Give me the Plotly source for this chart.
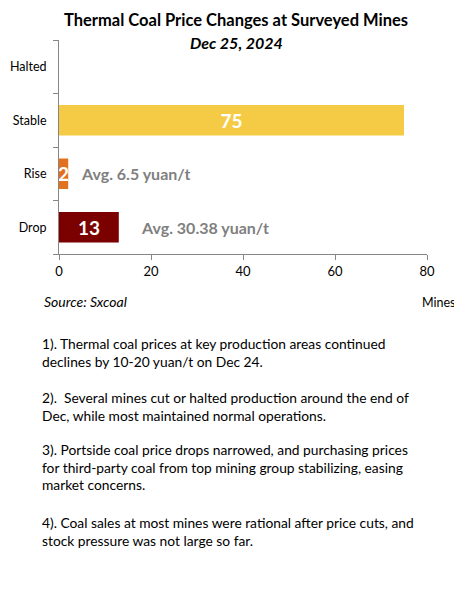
import plotly.graph_objects as go

# survey data, bottom to top as drawn on the y axis
categories = ['Drop', 'Rise', 'Stable', 'Halted']
mines = [13, 2, 75, 0]
bar_colors = ['#7B0000', '#E2711D', '#F5CB45', '#F5CB45']
avg_labels = ['Avg. 30.38 yuan/t', 'Avg. 6.5 yuan/t', '', '']
x_ticks = [0, 20, 40, 60, 80]

notes = [
    ['1). Thermal coal prices at key production areas continued',
     'declines by 10-20 yuan/t on Dec 24.'],
    ['2).  Several mines cut or halted production around the end of',
     'Dec, while most maintained normal operations.'],
    ['3). Portside coal price drops narrowed, and purchasing prices',
     'for third-party coal from top mining group stabilizing, easing',
     'market concerns.'],
    ['4). Coal sales at most mines were rational after price cuts, and',
     'stock pressure was not large so far.'],
]

font_main = 'Lato, Open Sans, sans-serif'

# the page puts the figure 8px in from the top left corner
OFF = 8
W, H = 462 - OFF, 606 - OFF
left, right = 59 - OFF, 427 - OFF
plot_top, plot_bottom = 40 - OFF, 254 - OFF


def px_x(px):
    # page column -> paper x
    return (px - OFF - left) / (right - left)


def px_y(px):
    # page row -> paper y
    return (plot_bottom - (px - OFF)) / (plot_bottom - plot_top)


fig = go.Figure()
fig.add_trace(go.Bar(
    x=mines,
    y=categories,
    orientation='h',
    marker=dict(color=bar_colors, line=dict(width=0)),
    width=0.57,
    text=[str(v) if v else '' for v in mines],
    textposition='inside',
    insidetextanchor='middle',
    constraintext='none',
    textfont=dict(family=font_main, size=19, color='white', weight='bold'),
    hoverinfo='skip',
))

annotations = []
# average change labels next to the bars
for cat, val, lab in zip(categories, mines, avg_labels):
    if lab:
        annotations.append(dict(
            x=val + (4.4 if val > 5 else 2.3), y=cat, xref='x', yref='y',
            text=lab, showarrow=False, xanchor='left', yanchor='middle',
            font=dict(family=font_main, size=16, color='#808080', weight='bold'),
        ))

annotations.append(dict(
    x=px_x(236), y=px_y(20), xref='paper', yref='paper', showarrow=False,
    text='<b>Thermal Coal Price Changes at Surveyed Mines</b>',
    font=dict(family=font_main, size=16.5, color='black'),
    xanchor='center', yanchor='middle',
))
annotations.append(dict(
    x=px_x(236), y=px_y(42), xref='paper', yref='paper', showarrow=False,
    text='<b><i>Dec 25, 2024</i></b>',
    font=dict(family=font_main, size=16, color='black'),
    xanchor='center', yanchor='middle',
))
annotations.append(dict(
    x=px_x(42), y=px_y(301), xref='paper', yref='paper', showarrow=False,
    text='<i>Source: Sxcoal</i>', xanchor='left', yanchor='middle',
    font=dict(family=font_main, size=14, color='black'),
))
annotations.append(dict(
    x=px_x(420), y=px_y(302), xref='paper', yref='paper', showarrow=False,
    text='Mines', xanchor='left', yanchor='middle',
    font=dict(family=font_main, size=12.5, color='black'),
))

# commentary below the chart, one annotation per line
para_tops = [343, 397, 449, 522]
line_step = 18
for para, top in zip(notes, para_tops):
    for i, line in enumerate(para):
        annotations.append(dict(
            x=px_x(40), y=px_y(top + i * line_step), xref='paper', yref='paper',
            showarrow=False, text=line, xanchor='left', yanchor='middle', align='left',
            font=dict(family=font_main, size=13.8, color='black'),
        ))

fig.update_layout(
    width=W,
    height=H,
    margin=dict(l=left, r=W - right, t=plot_top, b=H - plot_bottom),
    paper_bgcolor='white',
    plot_bgcolor='white',
    showlegend=False,
    font=dict(family=font_main, size=13, color='black'),
    xaxis=dict(
        range=[0, 80],
        tickvals=x_ticks,
        showgrid=False,
        zeroline=False,
        showline=True,
        linecolor='#868686',
        ticks='outside',
        tickcolor='#868686',
        ticklen=5,
        tickfont=dict(size=13),
        automargin=False,
        fixedrange=True,
    ),
    yaxis=dict(
        categoryorder='array',
        categoryarray=categories,
        showgrid=False,
        showline=True,
        linecolor='#868686',
        ticks='outside',
        tickson='boundaries',
        tickcolor='#868686',
        ticklen=5,
        ticklabelstandoff=9,
        tickfont=dict(size=12.5),
        automargin=False,
        fixedrange=True,
    ),
    annotations=annotations,
)

fig.write_html('out.html')
